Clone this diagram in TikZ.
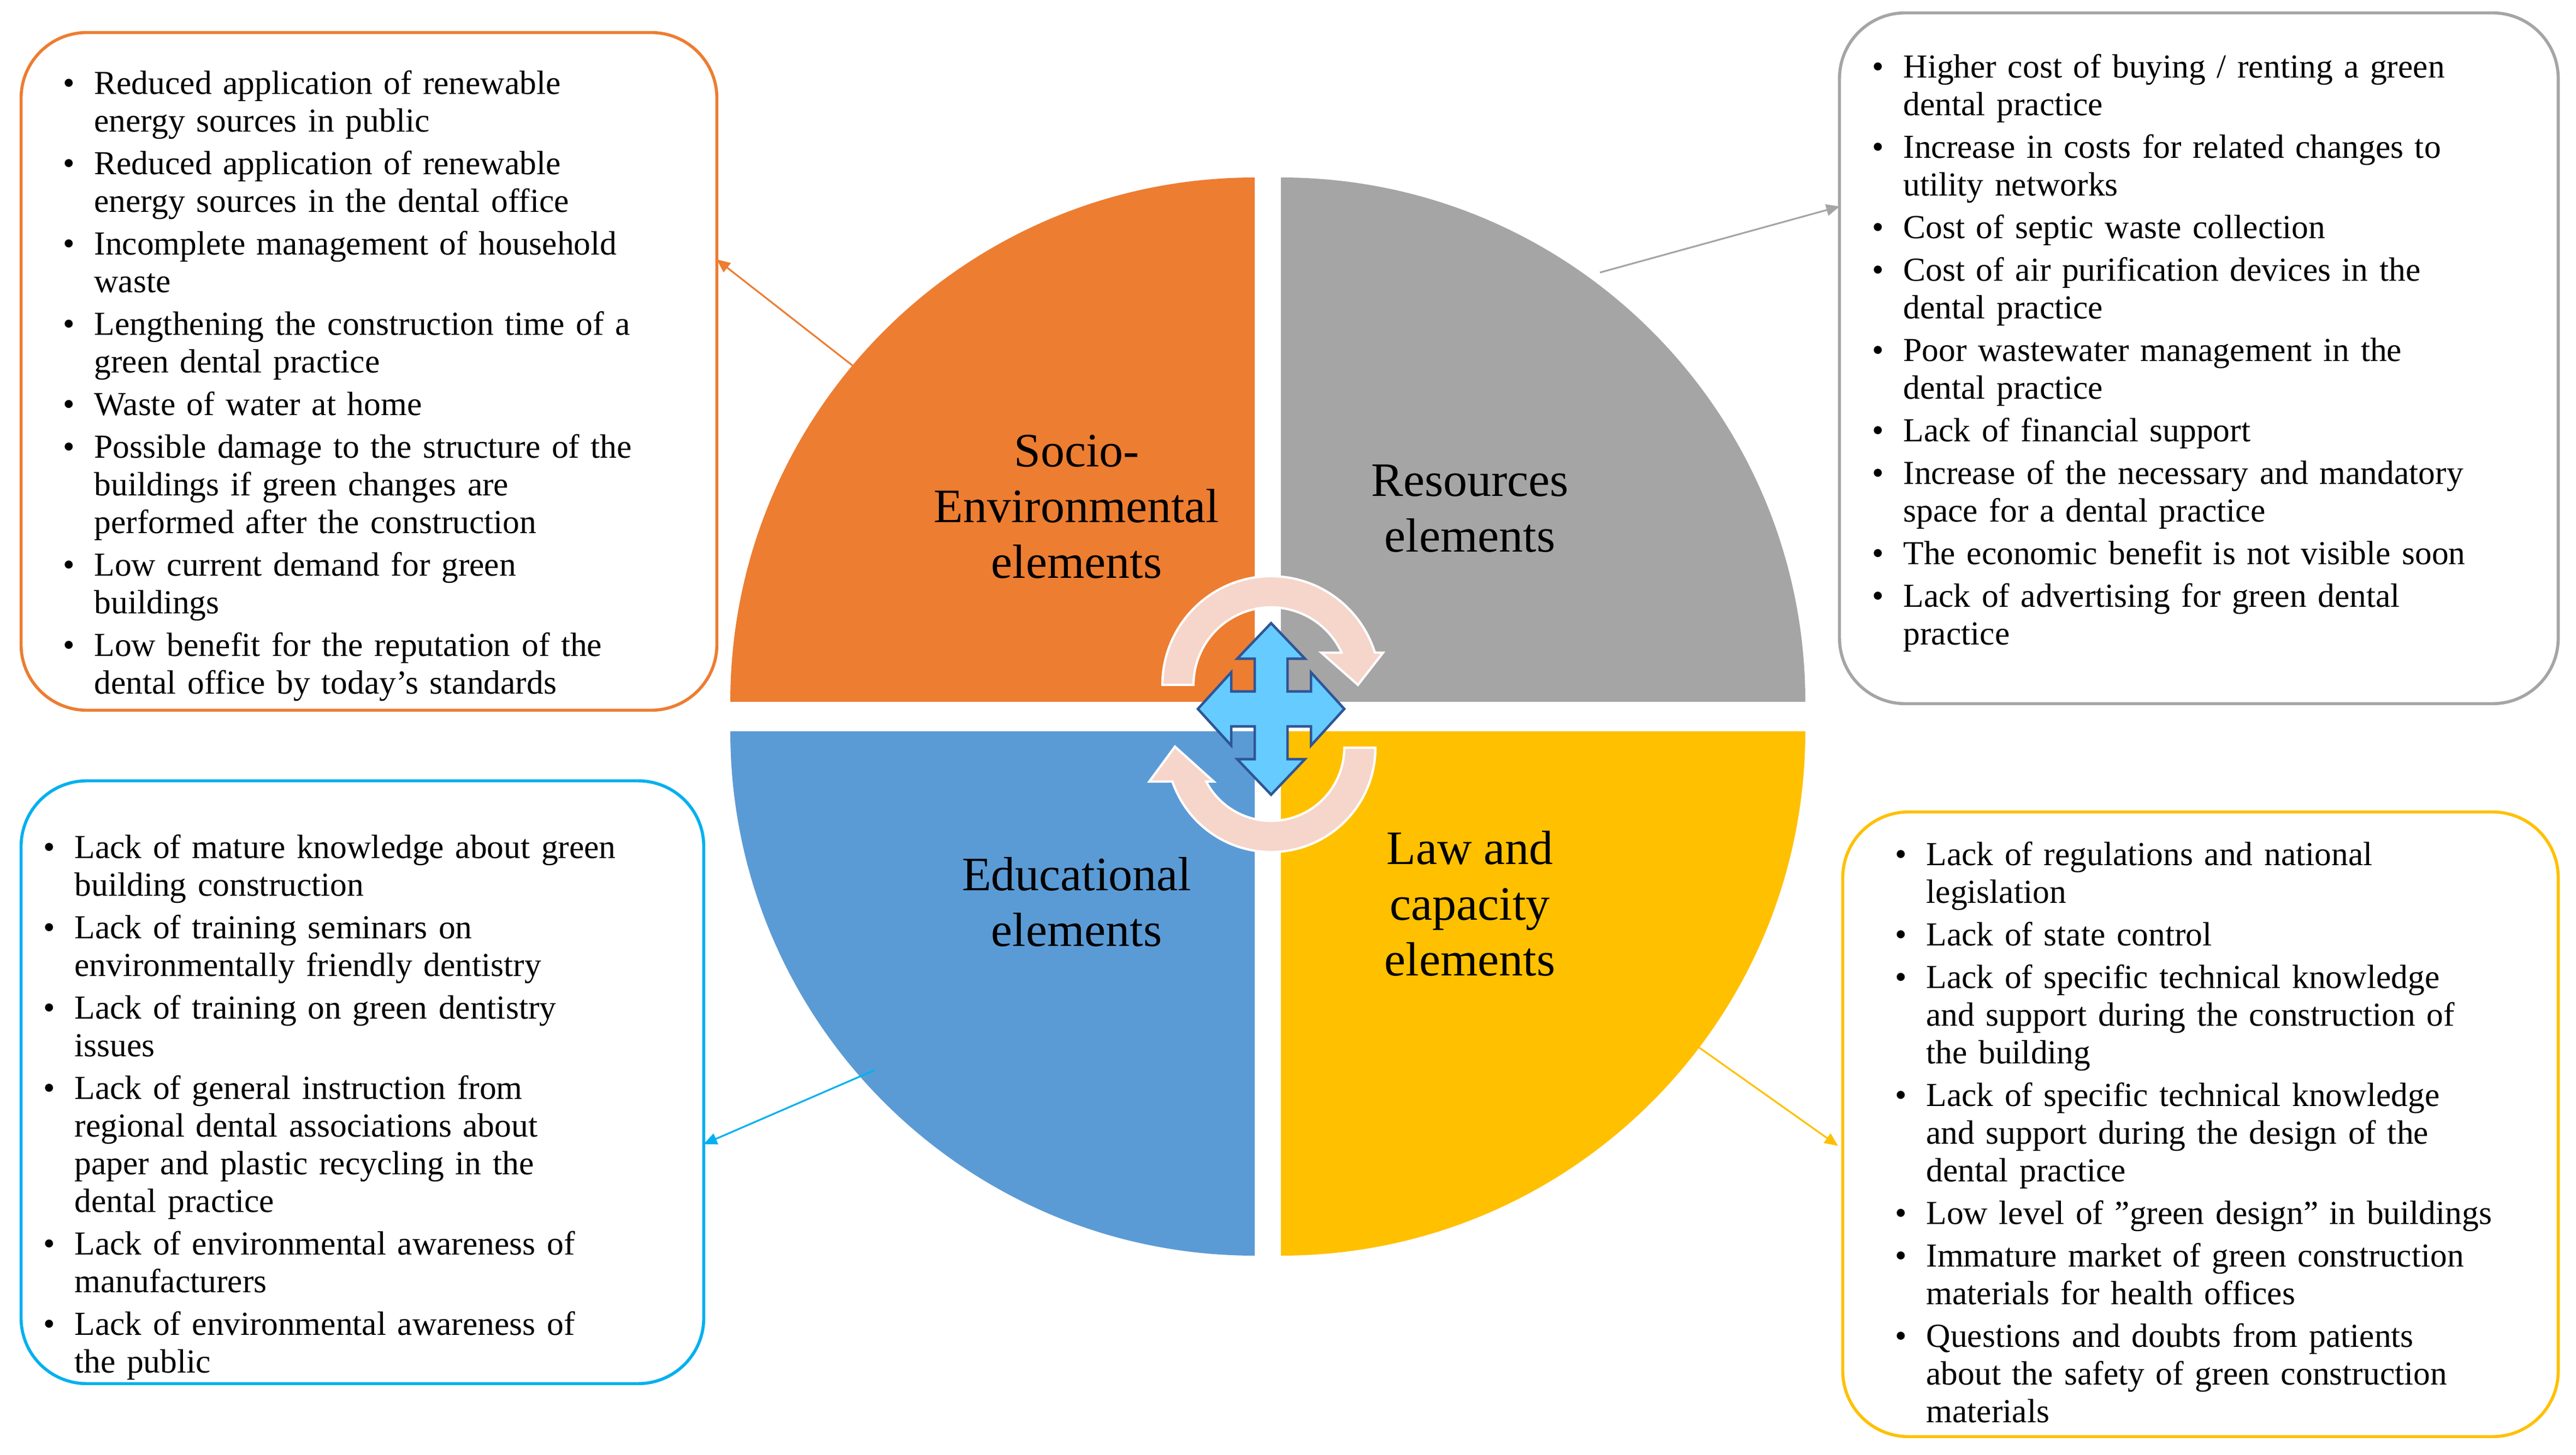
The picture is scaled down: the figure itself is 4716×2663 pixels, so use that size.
\documentclass[tikz,border=0pt]{standalone}
\usepackage{fontspec}
\setmainfont{Liberation Serif}
\usepackage{enumitem}
\usetikzlibrary{arrows.meta,calc}
\definecolor{corange}{HTML}{ED7D31}
\definecolor{cgrey}{HTML}{A5A5A5}
\definecolor{cblue}{HTML}{5B9BD5}
\definecolor{cyellow}{HTML}{FFC000}
\definecolor{cline}{HTML}{00B0F0}
\definecolor{cpink}{HTML}{F6D5CB}
\definecolor{ccross}{HTML}{66CCFF}
\definecolor{ccrossb}{HTML}{2F5597}
\newcommand{\lsize}{\fontsize{17.5}{19.6}\selectfont}
\newenvironment{blist}{\begin{itemize}[leftmargin=19pt,labelsep=10pt,itemsep=2.6pt,topsep=0pt,parsep=0pt,partopsep=0pt]}{\end{itemize}}
\begin{document}
\begin{tikzpicture}[x=0.01cm,y=0.01cm,
  boxstyle/.style={draw,line width=1.6pt,rounded corners=1.2cm,inner sep=0},
  liststyle/.style={anchor=north west,inner sep=0,text width=440pt,align=left,font=\lsize},
  quadlabel/.style={align=center,font=\fontsize{25}{29}\selectfont},
  conn/.style={line width=0.9pt,-{Triangle[length=7pt,width=6pt]}},
  ring/.style={fill=cpink,draw=white,line width=1.2pt}]
\useasboundingbox (0,0) rectangle (4716,2663);
% quadrants
\fill[corange] (2297,1378) -- ++(-960,0) arc[start angle=180,end angle=90,radius=960] -- cycle;
\fill[cgrey] (2345,1378) -- ++(0,960) arc[start angle=90,end angle=0,radius=960] -- cycle;
\fill[cblue] (2297,1324) -- ++(0,-960) arc[start angle=270,end angle=180,radius=960] -- cycle;
\fill[cyellow] (2345,1324) -- ++(960,0) arc[start angle=0,end angle=-90,radius=960] -- cycle;
% labels
\node[quadlabel] (qse) at (1971,1735) {Socio-\\Environmental\\elements};
\node[quadlabel] (qre) at (2691,1732) {Resources\\elements};
\node[quadlabel] (qed) at (1971,1012) {Educational\\elements};
\node[quadlabel] (qla) at (2691,1009) {Law and\\capacity\\elements};
% rings
\path[ring] (2327,1409) ++(180:199) arc[start angle=180,end angle=17.3,radius=199]
  -- (2532,1468) -- (2486,1409) -- (2419,1468)
  -- ($(2327,1409)+(24.5:142)$) arc[start angle=24.5,end angle=180,radius=142] -- cycle;
\path[ring] (2327,1294) ++(0:191) arc[start angle=0,end angle=-161.1,radius=191]
  -- (2104,1232) -- (2151,1296) -- (2222,1232)
  -- ($(2327,1294)+(-152.4:134)$) arc[start angle=-152.4,end angle=0,radius=134] -- cycle;
% four-way arrow
\draw[fill=ccross,draw=ccrossb,line width=1.3pt,shift={(2327,1365)}]
 (0,157) -- (62,92) -- (30,92) -- (30,32) -- (73,32) -- (73,67) -- (134,0) -- (73,-67) -- (73,-32)
 -- (30,-32) -- (30,-92) -- (62,-92) -- (0,-157) -- (-62,-92) -- (-30,-92) -- (-30,-32) -- (-73,-32)
 -- (-73,-67) -- (-134,0) -- (-73,67) -- (-73,32) -- (-30,32) -- (-30,92) -- (-62,92) -- cycle;
% boxes
\node[boxstyle,draw=corange,minimum width=12.73cm,minimum height=12.40cm] (bse) at (675.5,1983) {};
\node[boxstyle,draw=cgrey,minimum width=13.15cm,minimum height=12.64cm] (bre) at (4025.5,2007) {};
\node[boxstyle,draw=cline,minimum width=12.49cm,minimum height=11.03cm] (bed) at (663.5,681.5) {};
\node[boxstyle,draw=cyellow,minimum width=13.09cm,minimum height=11.43cm] (bla) at (4028.5,604.5) {};
% lists
\node[liststyle] (tse) at (105,2560) {\begin{blist}
\item Reduced application of renewable\\energy sources in public
\item Reduced application of renewable\\energy sources in the dental office
\item Incomplete management of household\\waste
\item Lengthening the construction time of a\\green dental practice
\item Waste of water at home
\item Possible damage to the structure of the\\buildings if green changes are\\performed after the construction
\item Low current demand for green\\buildings
\item Low benefit for the reputation of the\\dental office by today's standards
\end{blist}};
\node[liststyle] (tre) at (3417,2590) {\begin{blist}
\item Higher cost of buying / renting a green\\dental practice
\item Increase in costs for related changes to\\utility networks
\item Cost of septic waste collection
\item Cost of air purification devices in the\\dental practice
\item Poor wastewater management in the\\dental practice
\item Lack of financial support
\item Increase of the necessary and mandatory\\space for a dental practice
\item The economic benefit is not visible soon
\item Lack of advertising for green dental\\practice
\end{blist}};
\node[liststyle] (ted) at (69,1161) {\begin{blist}
\item Lack of mature knowledge about green\\building construction
\item Lack of training seminars on\\environmentally friendly dentistry
\item Lack of training on green dentistry\\issues
\item Lack of general instruction from\\regional dental associations about\\paper and plastic recycling in the\\dental practice
\item Lack of environmental awareness of\\manufacturers
\item Lack of environmental awareness of\\the public
\end{blist}};
\node[liststyle] (tla) at (3459,1148) {\begin{blist}
\item Lack of regulations and national\\legislation
\item Lack of state control
\item Lack of specific technical knowledge\\and support during the construction of\\the building
\item Lack of specific technical knowledge\\and support during the design of the\\dental practice
\item Low level of "green design" in buildings
\item Immature market of green construction\\materials for health offices
\item Questions and doubts from patients\\about the safety of green construction\\materials
\end{blist}};
% connectors
\coordinate (sse) at (1563,1992); \coordinate (ese) at (1312,2188);
\coordinate (sre) at (2929,2164); \coordinate (ere) at (3368,2285);
\coordinate (sed) at (1602,704);  \coordinate (eed) at (1288,568);
\coordinate (sla) at (3105,749);  \coordinate (ela) at (3365,565);
\draw[conn,corange] (sse) -- (ese);
\draw[conn,cgrey] (sre) -- (ere);
\draw[conn,cline] (sed) -- (eed);
\draw[conn,cyellow] (sla) -- (ela);
\end{tikzpicture}
\end{document}
